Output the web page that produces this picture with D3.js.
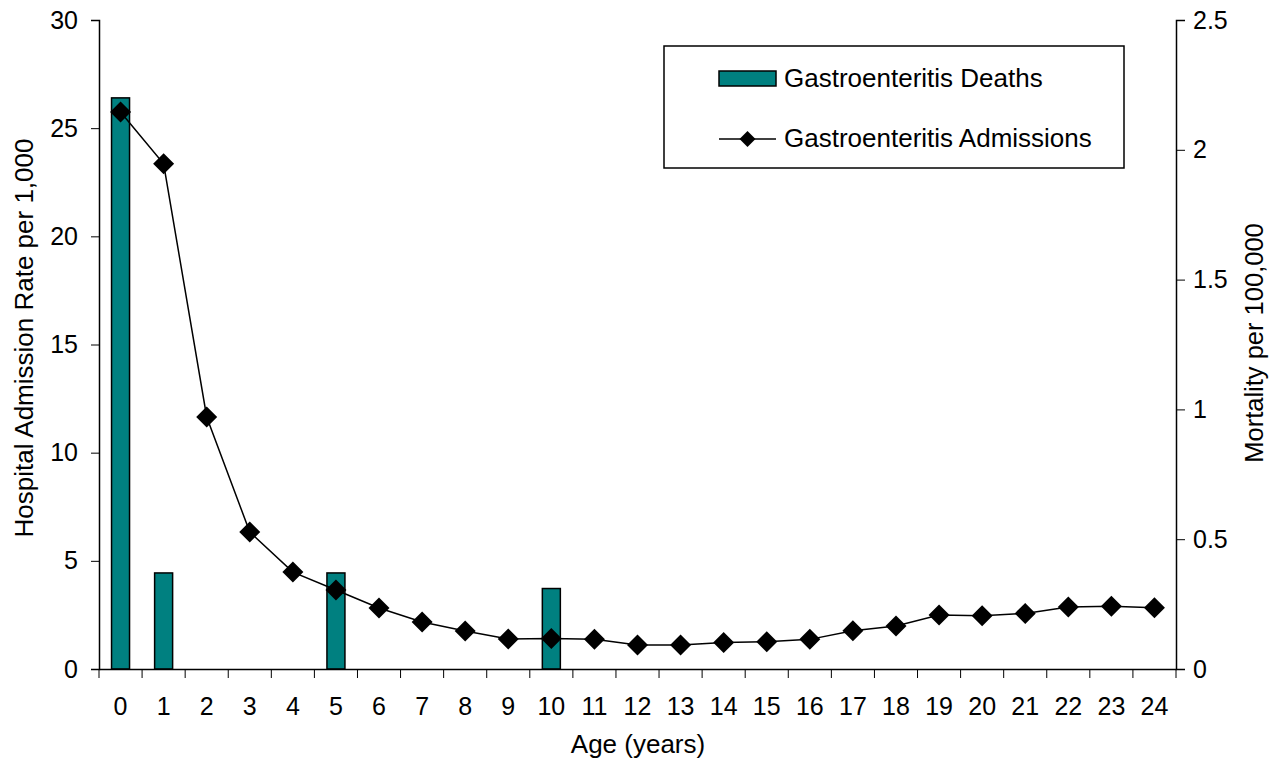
<!DOCTYPE html>
<html>
<head>
<meta charset="utf-8">
<script src="https://d3js.org/d3.v7.min.js"></script>
<style>
  body { margin: 0; background: #fff; }
  text { font-family: "Liberation Sans", Arial, sans-serif; fill: #000; }
</style>
</head>
<body>
<div id="chart"></div>
<script>
// ages on the x axis
var ages = d3.range(0, 25).map(String);
// hospital admission rate per 1,000 (left axis)
var admissions = [25.75, 23.35, 11.65, 6.33, 4.48, 3.65, 2.82, 2.17, 1.76, 1.39,
                  1.41, 1.38, 1.11, 1.11, 1.23, 1.26, 1.37, 1.77, 1.99, 2.5,
                  2.46, 2.57, 2.87, 2.9, 2.83];
// deaths per 100,000 (right axis), only for some ages
var deathAges = ["0", "1", "5", "10"];
var deaths = [2.2, 0.37, 0.37, 0.31];
var leftTicks = [0, 5, 10, 15, 20, 25, 30];
var rightTicks = [0, 0.5, 1, 1.5, 2, 2.5];

var width = 1280, height = 764;
var margin = {top: 20, right: 104, bottom: 95, left: 99};
var w = width - margin.left - margin.right,
    h = height - margin.top - margin.bottom;

var svg = d3.select("#chart").append("svg")
  .attr("width", width)
  .attr("height", height);

var g = svg.append("g")
  .attr("transform", "translate(" + margin.left + "," + margin.top + ")");

var x = d3.scaleBand().domain(ages).range([0, w]);
var yL = d3.scaleLinear().domain([0, 30]).range([h, 0]);
var yR = d3.scaleLinear().domain([0, 2.5]).range([h, 0]);

// bars
var barW = 18;
g.selectAll(".bar")
  .data(deathAges.map(function(a, i) { return {age: a, v: deaths[i]}; }))
  .enter().append("rect")
  .attr("x", function(d) { return x(d.age) + x.bandwidth() / 2 - barW / 2; })
  .attr("y", function(d) { return yR(d.v); })
  .attr("width", barW)
  .attr("height", function(d) { return h - yR(d.v); })
  .attr("fill", "#008080")
  .attr("stroke", "#000")
  .attr("stroke-width", 1.5);

// line
var line = d3.line()
  .x(function(d, i) { return x(ages[i]) + x.bandwidth() / 2; })
  .y(function(d) { return yL(d); });

g.append("path")
  .datum(admissions)
  .attr("fill", "none")
  .attr("stroke", "#000")
  .attr("stroke-width", 1.5)
  .attr("d", line);

function diamondPath(s) { return "M0," + (-s) + "L" + s + ",0L0," + s + "L" + (-s) + ",0Z"; }

g.selectAll(".pt")
  .data(admissions)
  .enter().append("path")
  .attr("d", diamondPath(10.5))
  .attr("transform", function(d, i) {
    return "translate(" + (x(ages[i]) + x.bandwidth() / 2) + "," + yL(d) + ")";
  })
  .attr("fill", "#000");

// axes
var fontSize = "25px";
var leftAxis = g.append("g")
  .call(d3.axisLeft(yL).tickValues(leftTicks).tickSize(8).tickPadding(13));
var rightAxis = g.append("g")
  .attr("transform", "translate(" + w + ",0)")
  .call(d3.axisRight(yR).tickValues(rightTicks).tickSize(9).tickPadding(8)
    .tickFormat(function(d) { return String(d); }));
var bottomAxis = g.append("g")
  .attr("transform", "translate(0," + h + ")")
  .call(d3.axisBottom(x).tickSize(0).tickPadding(28));

// boundary ticks between categories
g.append("g")
  .selectAll("line")
  .data(d3.range(0, ages.length + 1))
  .enter().append("line")
  .attr("x1", function(i) { return i * x.step(); })
  .attr("x2", function(i) { return i * x.step(); })
  .attr("y1", h)
  .attr("y2", h + 9)
  .attr("stroke", "#000")
  .attr("stroke-width", 1);

[leftAxis, rightAxis, bottomAxis].forEach(function(a) {
  a.selectAll("text").style("font-size", fontSize).style("font-family", "Liberation Sans, Arial, sans-serif");
  a.selectAll("path.domain").attr("stroke", "#000").attr("stroke-width", 1.5);
  a.selectAll(".tick line").attr("stroke", "#000");
});

// axis titles
svg.append("text")
  .attr("transform", "translate(33,338) rotate(-90)")
  .attr("text-anchor", "middle")
  .style("font-size", "26px")
  .text("Hospital Admission Rate per 1,000");

svg.append("text")
  .attr("transform", "translate(1263,343) rotate(-90)")
  .attr("text-anchor", "middle")
  .style("font-size", "25.5px")
  .text("Mortality per 100,000");

svg.append("text")
  .attr("x", 638)
  .attr("y", 753)
  .attr("text-anchor", "middle")
  .style("font-size", "26px")
  .text("Age (years)");

// legend
var lg = svg.append("g").attr("transform", "translate(664,46)");
lg.append("rect")
  .attr("width", 460).attr("height", 122)
  .attr("fill", "#fff").attr("stroke", "#000").attr("stroke-width", 1.5);
lg.append("rect")
  .attr("x", 55).attr("y", 25).attr("width", 57).attr("height", 15)
  .attr("fill", "#008080").attr("stroke", "#000").attr("stroke-width", 1.5);
lg.append("text")
  .attr("x", 120).attr("y", 41)
  .style("font-size", "26px")
  .text("Gastroenteritis Deaths");
lg.append("line")
  .attr("x1", 55).attr("x2", 112).attr("y1", 93).attr("y2", 93)
  .attr("stroke", "#000").attr("stroke-width", 1.5);
lg.append("path")
  .attr("d", diamondPath(8))
  .attr("transform", "translate(83.5,93)")
  .attr("fill", "#000");
lg.append("text")
  .attr("x", 120).attr("y", 101)
  .style("font-size", "26px")
  .text("Gastroenteritis Admissions");
</script>
</body>
</html>
